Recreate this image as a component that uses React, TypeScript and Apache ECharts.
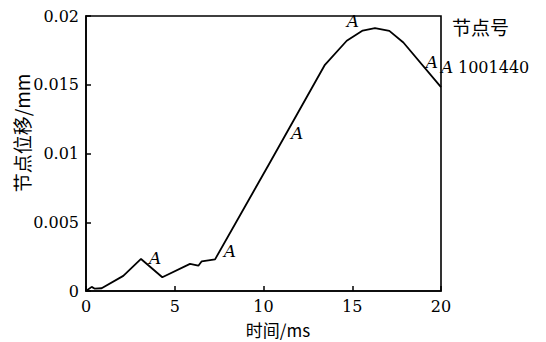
import React, { useEffect, useRef } from "react";
import * as echarts from "echarts";

const timeMs = [0, 0.32, 0.5, 0.88, 2.1, 3.1, 4.3, 5.86, 6.33, 6.52, 7.27, 10.3, 13.46, 14.69, 15.59, 16.28, 17.09, 17.88, 20];
const dispMm = [0, 0.0003, 0.00017, 0.0002, 0.0011, 0.00233, 0.001, 0.00197, 0.00184, 0.00216, 0.0023, 0.0092, 0.01645, 0.0182, 0.01894, 0.01911, 0.01892, 0.01807, 0.01483];
const markerX = [3.89, 8.11, 11.89, 15.04, 19.49];
const markerY = [0.0024, 0.00291, 0.0115, 0.01965, 0.01667];
const markerText = "A";
const legendTitle = "节点号";
const legendNode = "1001440";
const xName = "时间/ms";
const yName = "节点位移/mm";

const FONT = "DejaVu Serif";
const CJK = "Noto Sans CJK SC";

export default function App() {
  const ref = useRef<HTMLDivElement>(null);
  useEffect(() => {
    const chart = echarts.init(ref.current!, null, { renderer: "svg" });
    chart.setOption({
      animation: false,
      backgroundColor: "#fff",
      grid: {
        left: 86,
        right: 105,
        top: 16,
        bottom: 51,
        show: true,
        borderColor: "#000",
        borderWidth: 1.6,
        backgroundColor: "transparent",
      },
      xAxis: {
        type: "value",
        min: 0,
        max: 20,
        interval: 5,
        axisLine: { show: true, lineStyle: { color: "#000", width: 1.6 } },
        axisTick: { show: true, inside: true, length: 5, lineStyle: { color: "#000", width: 1.5 } },
        axisLabel: { color: "#000", fontSize: 16, fontFamily: FONT, margin: 7 },
        splitLine: { show: false },
      },
      yAxis: {
        type: "value",
        min: 0,
        max: 0.02,
        interval: 0.005,
        axisLine: { show: true, lineStyle: { color: "#000", width: 1.6 } },
        axisTick: { show: true, inside: true, length: 5, lineStyle: { color: "#000", width: 1.5 } },
        axisLabel: { color: "#000", fontSize: 16, fontFamily: FONT, margin: 7 },
        splitLine: { show: false },
      },
      series: [
        {
          type: "line",
          data: timeMs.map((t, i) => [t, dispMm[i]]),
          showSymbol: false,
          symbol: "none",
          lineStyle: { color: "#000", width: 1.8 },
        },
        {
          type: "scatter",
          data: markerX.map((t, i) => [t, markerY[i]]),
          symbolSize: 0,
          itemStyle: { opacity: 1, color: "#000" },
          label: {
            show: true,
            position: "inside",
            formatter: markerText,
            color: "#000",
            fontSize: 17,
            fontStyle: "italic",
            fontFamily: FONT,
          },
        },
      ],
      graphic: [
        {
          type: "text",
          x: 452,
          y: 26,
          style: { text: legendTitle, fill: "#000", fontSize: 19, fontFamily: CJK, verticalAlign: "middle" },
        },
        {
          type: "text",
          x: 441,
          y: 67,
          style: { text: markerText, fill: "#000", fontSize: 17, fontStyle: "italic", fontFamily: FONT, verticalAlign: "middle" },
        },
        {
          type: "text",
          x: 458,
          y: 67,
          style: { text: legendNode, fill: "#000", fontSize: 16, fontFamily: FONT, verticalAlign: "middle" },
        },
        {
          type: "text",
          x: 278,
          y: 329,
          style: { text: xName, fill: "#000", fontSize: 17, fontFamily: CJK, align: "center", verticalAlign: "middle" },
        },
        {
          type: "text",
          x: 21,
          y: 133,
          rotation: Math.PI / 2,
          style: {
            text: yName,
            fill: "#000",
            fontSize: 19,
            fontFamily: CJK,
            align: "center",
            verticalAlign: "middle",
          },
        },
      ],
    });
    return () => chart.dispose();
  }, []);
  return <div ref={ref} style={{ width: 546, height: 342, position: "fixed", left: 0, top: 0 }} />;
}
